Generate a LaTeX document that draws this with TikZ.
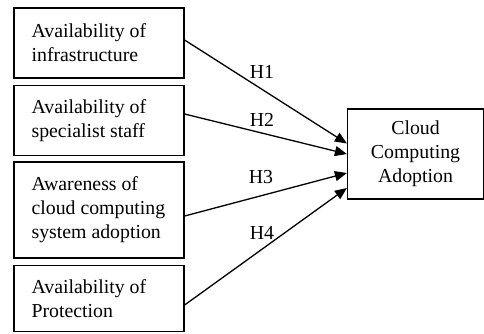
\documentclass[tikz,border=0pt]{standalone}
\usepackage{fontspec}
\setmainfont{Liberation Serif}
\usetikzlibrary{arrows.meta}
\begin{document}
\begin{tikzpicture}[x=1pt,y=1pt,
  box/.style={draw, line width=1.2pt, minimum width=170pt, inner sep=0pt},
  txt/.style={align=left, inner sep=0pt, font=\fontsize{19.8pt}{24pt}\selectfont},
  ctxt/.style={align=center, inner sep=0pt, font=\fontsize{19.8pt}{24pt}\selectfont},
  hlab/.style={inner sep=0pt, font=\fontsize{19.8pt}{24pt}\selectfont},
  arr/.style={line width=1.3pt, -{Triangle[length=12pt,width=10pt]}}]
\useasboundingbox (0,0) rectangle (484,-333);
\node[box, minimum height=70pt] (b1) at (99,-43) {};
\node[txt, anchor=west] (t1) at ([xshift=18pt]b1.west) {Availability of\\infrastructure};
\node[box, minimum height=70pt] (b2) at (99,-120.5) {};
\node[txt, anchor=west] (t2) at ([xshift=18pt]b2.west) {Availability of\\specialist staff};
\node[box, minimum height=96pt] (b3) at (99,-210) {};
\node[txt, anchor=west] (t3) at ([xshift=18pt]b3.west) {Awareness of\\cloud computing\\system adoption};
\node[box, minimum height=66pt] (b4) at (99,-298.5) {};
\node[txt, anchor=west] (t4) at ([xshift=18pt]b4.west) {Availability of\\Protection};
\node[box, minimum width=136pt, minimum height=90pt] (c) at (415.5,-154) {};
\node[ctxt] (ct) at (c.center) {Cloud\\Computing\\Adoption};
\draw[arr] ([yshift=3pt]b1.east) -- ([yshift=10.5pt]c.west);
\draw[arr] ([yshift=6.5pt]b2.east) -- ([yshift=0pt]c.west);
\draw[arr] ([yshift=-6pt]b3.east) -- ([yshift=-19pt]c.west);
\draw[arr] ([yshift=-6.5pt]b4.east) -- ([yshift=-34pt]c.west);
\node[hlab] (h1) at (262,-72) {H1};
\node[hlab] (h2) at (262,-120) {H2};
\node[hlab] (h3) at (261,-177) {H3};
\node[hlab] (h4) at (262,-233) {H4};
\end{tikzpicture}
\end{document}
